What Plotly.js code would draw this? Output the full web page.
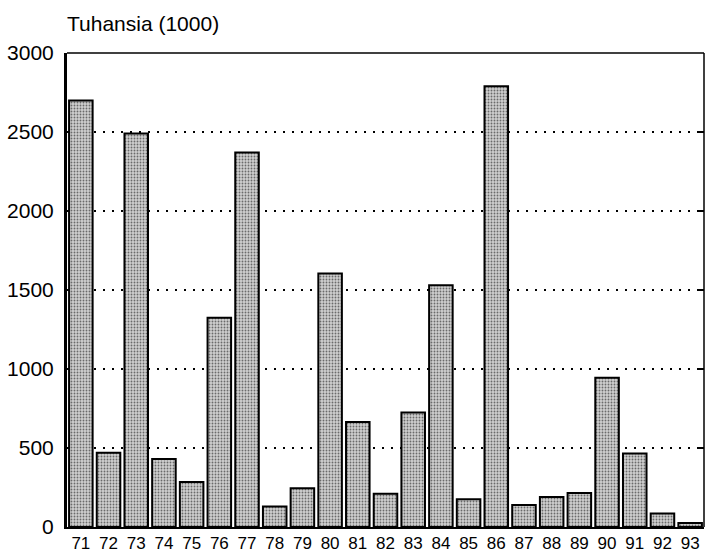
<!DOCTYPE html>
<html>
<head>
<meta charset="utf-8">
<script src="https://cdn.plot.ly/plotly-3.0.1.min.js"></script>
<style>html,body{margin:0;padding:0;background:#fff;}#chart{width:707px;height:553px;}</style>
</head>
<body>
<div id="chart"></div>
<script>
const years = ["71","72","73","74","75","76","77","78","79","80","81","82","83","84","85","86","87","88","89","90","91","92","93"];
const values = [2700,470,2490,430,285,1325,2370,130,245,1605,665,210,725,1530,175,2790,140,190,215,945,465,85,25];
const yTicks = [0,500,1000,1500,2000,2500,3000];
const titleText = "Tuhansia (1000)";

const font = {family: "Liberation Sans, Arial, sans-serif", color: "#000"};

const trace = {
  type: "bar",
  x: years,
  y: values,
  marker: {
    color: "#b0b0b0",
    line: {color: "#000", width: 2},
    pattern: {shape: ".", fgcolor: "#6a6a6a", bgcolor: "#cfcfcf", size: 3, solidity: 0.3}
  },
  hoverinfo: "none"
};

const ghost = {type: "scatter", x: [years[0]], y: [0], yaxis: "y2", mode: "markers", marker: {opacity: 0}, hoverinfo: "none", showlegend: false};

const layout = {
  width: 707, height: 553,
  margin: {l: 67, r: 3, t: 53, b: 26},
  paper_bgcolor: "#fff", plot_bgcolor: "#fff",
  showlegend: false,
  bargap: 0.15,
  font: font,
  title: {text: titleText, x: 67/707, xanchor: "left", xref: "container", y: 1 - 24/553, yanchor: "middle", yref: "container", font: {size: 21, color: "#000", family: font.family}},
  xaxis: {
    type: "category",
    range: [-0.5, years.length - 0.5],
    showgrid: false, zeroline: false,
    showline: true, linecolor: "#000", linewidth: 2,
    ticks: "", tickfont: {size: 17, color: "#000"}, ticklabelstandoff: 0,
    fixedrange: true
  },
  yaxis: {
    range: [0, 3000],
    tickvals: yTicks, ticktext: yTicks.map(String),
    showgrid: true, gridcolor: "#000", gridwidth: 1.2, griddash: "2px,7px",
    zeroline: false,
    showline: true, linecolor: "#000", linewidth: 3,
    ticks: "", tickfont: {size: 21, color: "#000"}, ticklabelstandoff: 6,
    fixedrange: true
  },
  yaxis2: {
    overlaying: "y", side: "right", range: [0, 3000],
    tickvals: yTicks, showticklabels: false, ticks: "inside", ticklen: 5, tickwidth: 1.5, tickcolor: "#000",
    showgrid: false, zeroline: false, showline: false, fixedrange: true
  },
  shapes: [
    {type: "line", xref: "paper", yref: "paper", x0: 0, x1: 1, y0: 1, y1: 1, line: {color: "#000", width: 1.5}},
    {type: "line", xref: "paper", yref: "paper", x0: 1, x1: 1, y0: 0, y1: 1, line: {color: "#000", width: 1.5}}
  ]
};

Plotly.newPlot("chart", [trace, ghost], layout, {displayModeBar: false, staticPlot: true});
</script>
</body>
</html>
